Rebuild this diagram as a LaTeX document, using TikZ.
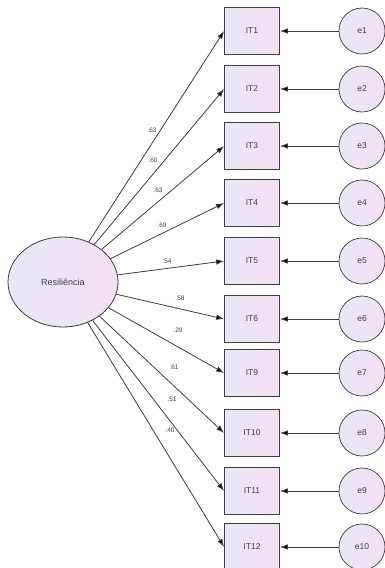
\documentclass[tikz,border=0pt]{standalone}
\usepackage{fontspec}
\setmainfont{Liberation Sans}
\usetikzlibrary{arrows.meta,shapes.geometric}
\definecolor{edgec}{RGB}{60,60,65}
\definecolor{fillA}{RGB}{232,232,246}
\definecolor{fillB}{RGB}{242,224,242}
\definecolor{txt}{RGB}{60,60,80}
\begin{document}
\begin{tikzpicture}[x=1pt,y=-1pt,
  obs/.style={draw=edgec, line width=0.8pt, minimum width=55pt, minimum height=47pt,
    left color=fillA, right color=fillB, text=txt, inner sep=0pt,
    font=\fontsize{8.5}{10}\selectfont},
  err/.style={circle, draw=edgec, line width=0.7pt, minimum size=46pt,
    left color=fillA, right color=fillB, text=txt, inner sep=0pt,
    font=\fontsize{8.5}{10}\selectfont},
  lat/.style={ellipse, draw=edgec, line width=0.8pt, minimum width=110pt, minimum height=90pt,
    left color=fillA, right color=fillB, text=txt, inner sep=0pt,
    font=\fontsize{9}{11}\selectfont},
  load/.style={draw=edgec, line width=0.8pt, -{Latex[length=8pt,width=5.5pt,fill=black]}},
  lbl/.style={text=txt, inner sep=0pt, font=\fontsize{6.5}{7}\selectfont}
]
\useasboundingbox (0,0) rectangle (384,568);

\node[lat] (res) at (63,282) {Resiliência};

\node[obs] (it1)  at (252,31)  {IT1};
\node[obs] (it2)  at (252,89)  {IT2};
\node[obs] (it3)  at (252,146) {IT3};
\node[obs] (it4)  at (252,203) {IT4};
\node[obs] (it5)  at (252,261) {IT5};
\node[obs] (it6)  at (252,319) {IT6};
\node[obs] (it9)  at (252,373) {IT9};
\node[obs] (it10) at (252,433) {IT10};
\node[obs] (it11) at (252,491) {IT11};
\node[obs] (it12) at (252,547) {IT12};

\node[err] (e1)  at (362,31)  {e1};
\node[err] (e2)  at (362,89)  {e2};
\node[err] (e3)  at (362,146) {e3};
\node[err] (e4)  at (362,203) {e4};
\node[err] (e5)  at (362,261) {e5};
\node[err] (e6)  at (362,319) {e6};
\node[err] (e7)  at (362,373) {e7};
\node[err] (e8)  at (362,433) {e8};
\node[err] (e9)  at (362,491) {e9};
\node[err] (e10) at (362,547) {e10};

\foreach \i/\e in {1/1,2/2,3/3,4/4,5/5,6/6,9/7,10/8,11/9,12/10}{
  \draw[load] (res) -- (it\i.west);
  \draw[load] (e\e) -- (it\i.east);
}

\node[lbl] (l1)  at (152,130) {.63};
\node[lbl] (l2)  at (153,160) {.60};
\node[lbl] (l3)  at (158,190) {.63};
\node[lbl] (l4)  at (162,225) {.69};
\node[lbl] (l5)  at (167,261) {.54};
\node[lbl] (l6)  at (180,298) {.58};
\node[lbl] (l7)  at (178,330) {.29};
\node[lbl] (l8)  at (174,367) {.61};
\node[lbl] (l9)  at (172,399) {.51};
\node[lbl] (l10) at (170,430) {.40};
\end{tikzpicture}
\end{document}
